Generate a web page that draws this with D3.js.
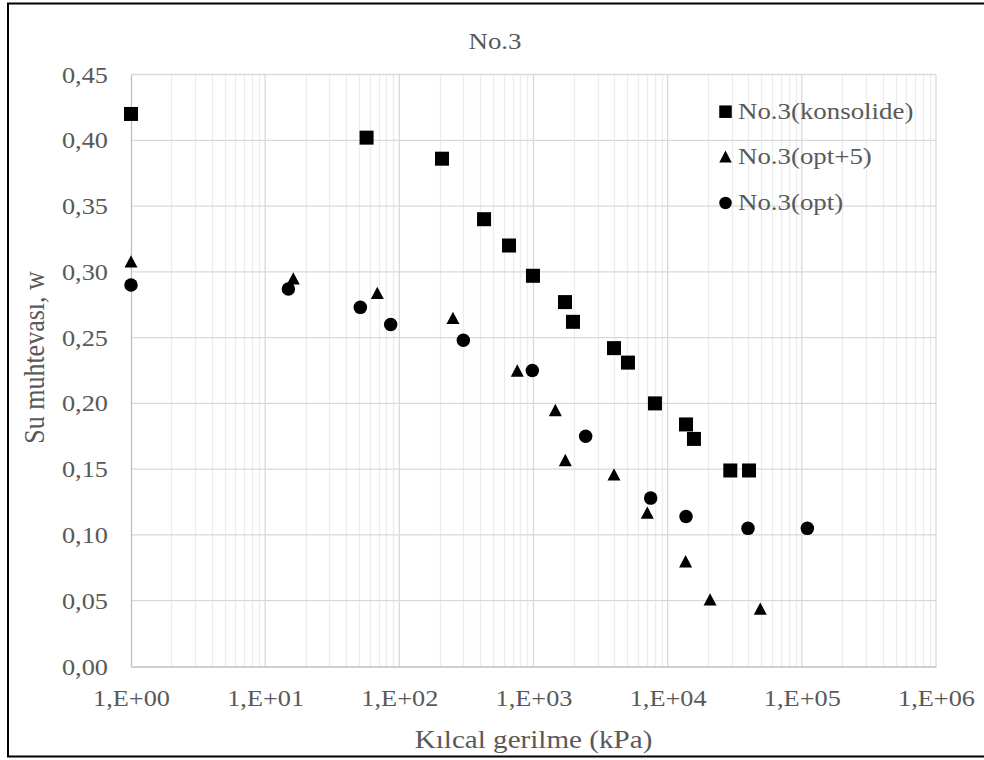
<!DOCTYPE html>
<html>
<head>
<meta charset="utf-8">
<script src="https://cdn.jsdelivr.net/npm/d3@7"></script>
<style>
  html, body { margin: 0; padding: 0; background: #fff; }
  svg { display: block; }
</style>
</head>
<body>
<svg id="chart" width="984" height="760"></svg>
<script>
// Capillary suction (kPa) vs. water content, sample No.3
const konsolideX = [1, 57, 208, 428, 657, 991, 1717, 1969, 3981, 5060, 8040, 13700, 15700, 29300, 40400];
const konsolideY = [0.420, 0.402, 0.386, 0.340, 0.320, 0.297, 0.277, 0.262, 0.242, 0.231, 0.200, 0.184, 0.173, 0.149, 0.149];

const opt5X = [1, 16.2, 68.5, 251, 757, 1455, 1726, 3981, 7050, 13600, 20700, 49000];
const opt5Y = [0.308, 0.295, 0.284, 0.265, 0.225, 0.195, 0.157, 0.146, 0.117, 0.080, 0.051, 0.044];

const optX = [1, 14.9, 51.2, 86.2, 300, 980, 2448, 7470, 13700, 39700, 109900];
const optY = [0.290, 0.287, 0.273, 0.260, 0.248, 0.225, 0.175, 0.128, 0.114, 0.105, 0.105];

const xTicks = [1, 10, 100, 1000, 10000, 100000, 1000000];
const xTickLabels = ["1,E+00", "1,E+01", "1,E+02", "1,E+03", "1,E+04", "1,E+05", "1,E+06"];
const yTicks = [0, 0.05, 0.10, 0.15, 0.20, 0.25, 0.30, 0.35, 0.40, 0.45];
const yTickLabels = ["0,00", "0,05", "0,10", "0,15", "0,20", "0,25", "0,30", "0,35", "0,40", "0,45"];

const seriesNames = ["No.3(konsolide)", "No.3(opt+5)", "No.3(opt)"];
const seriesShapes = ["square", "triangle", "circle"];

const chartTitle = "No.3";
const xTitle = "Kılcal gerilme (kPa)";
const yTitle = "Su muhtevası, w";

const FONT = '"Liberation Serif", Tinos, "Times New Roman", serif';
const FS = 23.5;      // tick / legend font size
const FS_AXIS = 26;   // axis title font size
const SX = 1.12;      // slight horizontal widening of the glyphs
const TXT = "#595959";

const svg = d3.select("#chart");
const plot = { left: 131, right: 936, top: 74.5, bottom: 666.5 };

const x = d3.scaleLog().domain([1, 1e6]).range([plot.left, plot.right]);
const y = d3.scaleLinear().domain([0, 0.45]).range([plot.bottom, plot.top]);

function styleText(sel, size) {
  return sel.style("font-family", FONT).style("font-size", (size || FS) + "px").style("fill", TXT);
}

// free-standing text, widened horizontally on screen like the axis labels
function addText(px, py, str, anchor, size, vertical) {
  const tf = vertical
    ? `translate(${px},${py}) rotate(-90) scale(1,${SX})`
    : `translate(${px},${py}) scale(${SX},1)`;
  const t = svg.append("text").attr("transform", tf).attr("text-anchor", anchor).text(str);
  return styleText(t, size);
}

// outer frame
svg.append("rect")
  .attr("x", 8).attr("y", 3.5).attr("width", 1000).attr("height", 753)
  .attr("fill", "none").attr("stroke", "#000").attr("stroke-width", 2);

// minor vertical grid (2..9 in each decade)
const minor = [];
for (let k = 0; k < 6; k++) for (let m = 2; m <= 9; m++) minor.push(m * Math.pow(10, k));
svg.append("g").selectAll("line").data(minor).join("line")
  .attr("x1", d => Math.round(x(d)) + 0.5).attr("x2", d => Math.round(x(d)) + 0.5)
  .attr("y1", plot.top).attr("y2", plot.bottom)
  .attr("stroke", "#ececec").attr("stroke-width", 1.3);

// major vertical grid
svg.append("g").selectAll("line").data(xTicks.slice(1)).join("line")
  .attr("x1", d => x(d)).attr("x2", d => x(d))
  .attr("y1", plot.top).attr("y2", plot.bottom)
  .attr("stroke", "#d9d9d9").attr("stroke-width", 1.3);

// horizontal grid
svg.append("g").selectAll("line").data(yTicks.slice(1)).join("line")
  .attr("x1", plot.left).attr("x2", plot.right)
  .attr("y1", d => y(d)).attr("y2", d => y(d))
  .attr("stroke", "#d9d9d9").attr("stroke-width", 1.3);

// x axis
const xAxis = d3.axisBottom(x).tickValues(xTicks)
  .tickFormat((d, i) => xTickLabels[i]).tickSize(0).tickPadding(23);
const gx = svg.append("g").attr("transform", `translate(0,${plot.bottom})`).call(xAxis);
gx.select(".domain").attr("stroke", "#bfbfbf").attr("stroke-width", 1.3);
styleText(gx.selectAll("text")).attr("transform", `scale(${SX},1)`);

// y axis
const yAxis = d3.axisLeft(y).tickValues(yTicks)
  .tickFormat((d, i) => yTickLabels[i]).tickSize(0).tickPadding(23);
const gy = svg.append("g").attr("transform", `translate(${plot.left},0)`).call(yAxis);
gy.select(".domain").attr("stroke", "#bfbfbf").attr("stroke-width", 1.3);
styleText(gy.selectAll("text")).each(function () {
  const t = d3.select(this);
  t.attr("x", (+t.attr("x")) / SX).attr("transform", `scale(${SX},1)`);
});

// marker shapes
function drawMarker(g, shape, cx, cy, s) {
  if (shape === "square") {
    g.append("rect").attr("x", cx - s / 2).attr("y", cy - s / 2)
      .attr("width", s).attr("height", s).attr("fill", "#000");
  } else if (shape === "triangle") {
    const h = s * 0.95;
    g.append("path")
      .attr("d", `M${cx},${cy - h / 2}L${cx + s / 2},${cy + h / 2}L${cx - s / 2},${cy + h / 2}Z`)
      .attr("fill", "#000");
  } else {
    g.append("circle").attr("cx", cx).attr("cy", cy).attr("r", s / 2).attr("fill", "#000");
  }
}

const seriesData = [
  { xs: konsolideX, ys: konsolideY, size: 14 },
  { xs: opt5X, ys: opt5Y, size: 13 },
  { xs: optX, ys: optY, size: 13.5 }
];

seriesData.forEach((s, si) => {
  const g = svg.append("g");
  s.xs.forEach((xv, i) => drawMarker(g, seriesShapes[si], x(xv), y(s.ys[i]), s.size));
});

// titles
addText(495, 49, chartTitle, "middle", 24);
addText((plot.left + plot.right) / 2, 748, xTitle, "middle", FS_AXIS);
addText(44, 357.5, yTitle, "middle", FS_AXIS, true);

// legend
const legend = svg.append("g");
const legendMarkY = [111.7, 156.5, 203];
const legendTextY = [119, 164, 210];
seriesNames.forEach((name, i) => {
  drawMarker(legend, seriesShapes[i], 725.5, legendMarkY[i], 12.5);
  addText(738, legendTextY[i], name, "start", 24);
});
</script>
</body>
</html>
